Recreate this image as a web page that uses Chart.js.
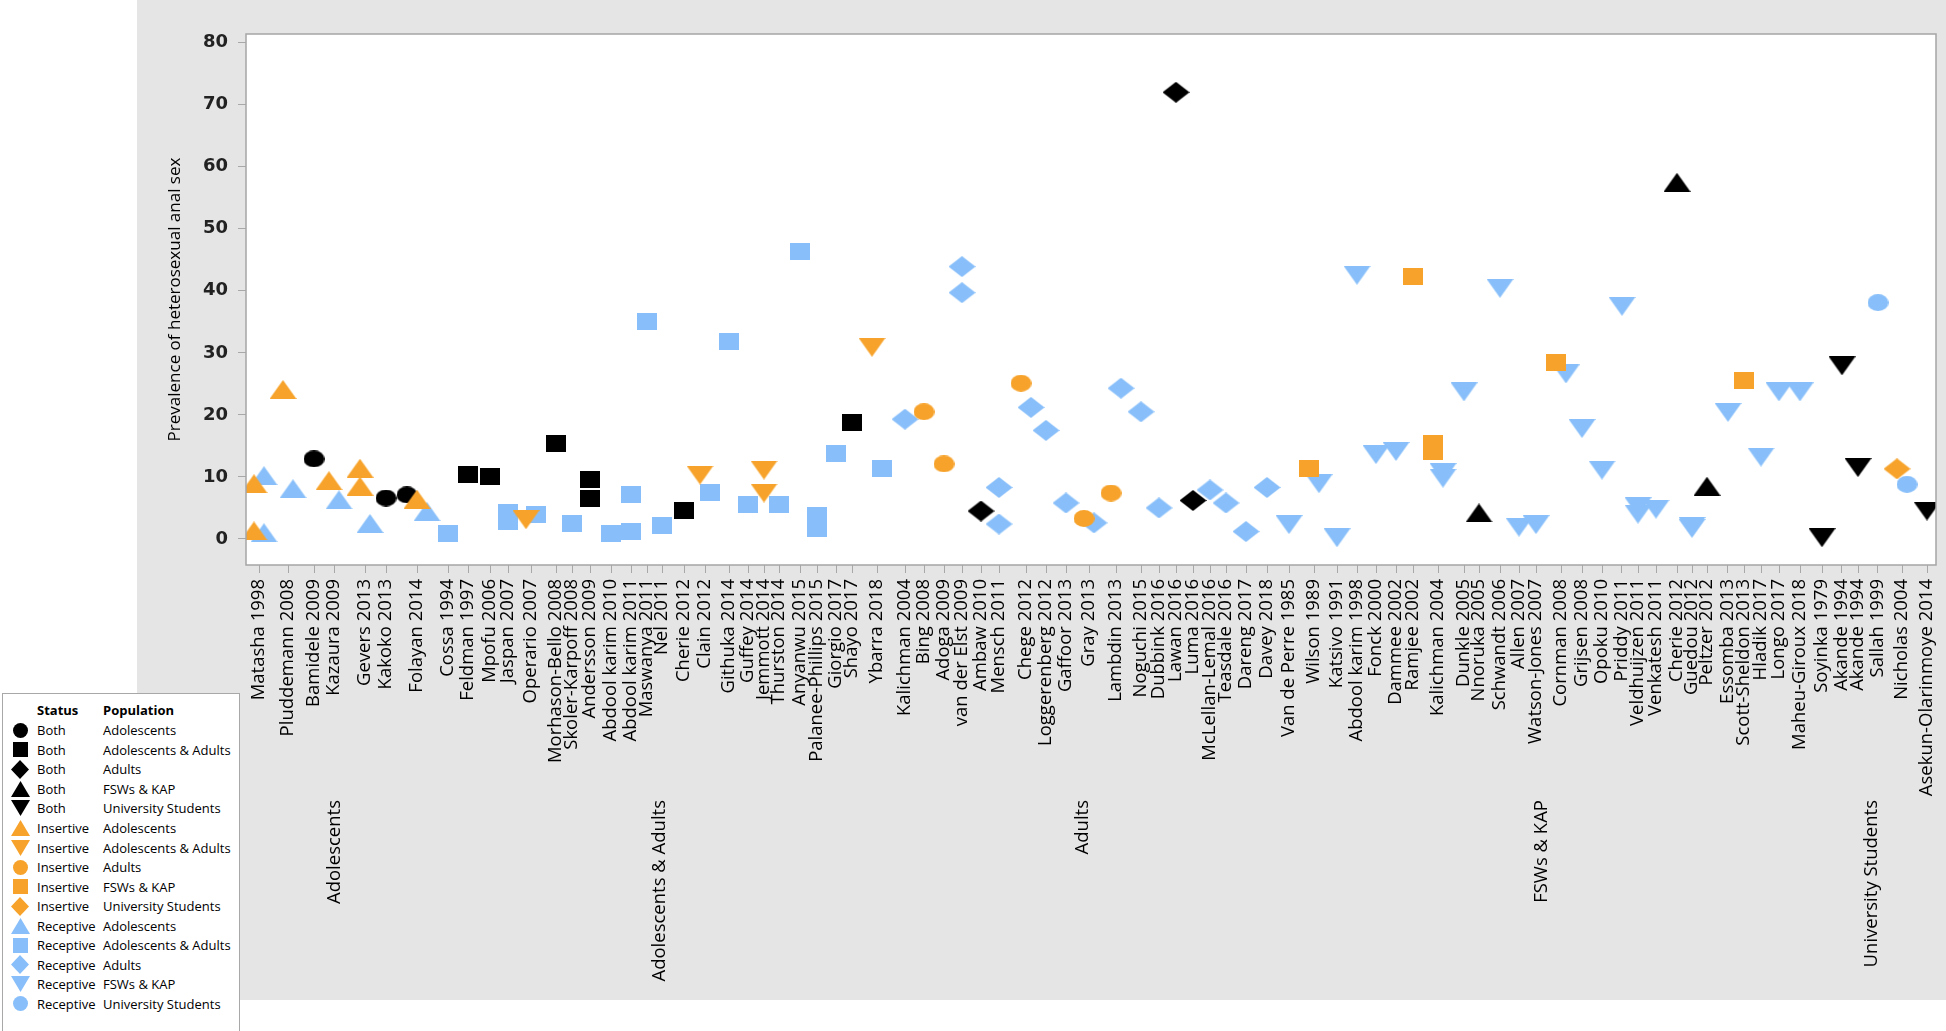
<!DOCTYPE html>
<html>
<head>
<meta charset="utf-8">
<script src="https://cdn.jsdelivr.net/npm/chart.js@4.4.1/dist/chart.umd.min.js"></script>
<style>
  body { margin: 0; background: #fff; }
  #wrap { position: relative; width: 1946px; height: 1031px; overflow: hidden; }
  #legend { position: absolute; left: 2px; top: 693px; width: 236px; height: 340px;
            border: 1.5px solid #a8a8a8; background: #fff; font-family: 'Open Sans'; font-size: 13px; color: #000; }
  .lrow { position: absolute; left: 0; width: 100%; height: 20px; line-height: 20px; white-space: nowrap; }
  .lrow span { position: absolute; top: 0; }
  .lrow canvas { position: absolute; }
  .hdr { font-weight: bold; }
</style>
</head>
<body>
<div id="wrap">
  <canvas id="chart" width="1946" height="1031"></canvas>
  <div id="legend"></div>
</div>
<script>
// populations (x axis groups) and status of the anal sex
var groups = ["Adolescents", "Adolescents & Adults", "Adults", "FSWs & KAP", "University Students"];
var groupSize = [7, 23, 19, 27, 6];   // how many studies belong to each group, in order
var statuses = ["Both", "Insertive", "Receptive"];

// studies on the x axis, in the order of the picture
var studyNames = [
  "Matasha 1998", "Pluddemann 2008", "Bamidele 2009", "Kazaura 2009", "Gevers 2013", "Kakoko 2013", "Folayan 2014",
  "Cossa 1994", "Feldman 1997", "Mpofu 2006", "Jaspan 2007", "Operario 2007", "Morhason-Bello 2008", "Skoler-Karpoff 2008",
  "Andersson 2009", "Abdool karim 2010", "Abdool karim 2011", "Maswanya 2011", "Nel 2011", "Cherie 2012", "Clain 2012",
  "Githuka 2014", "Guffey 2014", "Jemmott 2014", "Thurston 2014", "Anyanwu 2015", "Palanee-Phillips 2015", "Giorgio 2017",
  "Shayo 2017", "Ybarra 2018",
  "Kalichman 2004", "Bing 2008", "Adoga 2009", "van der Elst 2009", "Ambaw 2010", "Mensch 2011", "Chege 2012",
  "Loggerenberg 2012", "Gaffoor 2013", "Gray 2013", "Lambdin 2013", "Noguchi 2015", "Dubbink 2016", "Lawan 2016",
  "Luma 2016", "McLellan-Lemal 2016", "Teasdale 2016", "Dareng 2017", "Davey 2018",
  "Van de Perre 1985", "Wilson 1989", "Katsivo 1991", "Abdool karim 1998", "Fonck 2000", "Dammee 2002", "Ramjee 2002",
  "Kalichman 2004", "Dunkle 2005", "Nnoruka 2005", "Schwandt 2006", "Allen 2007", "Watson-Jones 2007", "Cornman 2008",
  "Grijsen 2008", "Opoku 2010", "Priddy 2011", "Veldhuijzen 2011", "Venkatesh 2011", "Cherie 2012", "Guedou 2012",
  "Peltzer 2012", "Essomba 2013", "Scott-Sheldon 2013", "Hladik 2017", "Longo 2017", "Maheu-Giroux 2018",
  "Soyinka 1979", "Akande 1994", "Akande 1994", "Sallah 1999", "Nicholas 2004", "Asekun-Olarinmoye 2014"
];
// where each study sits on the x axis (axis runs 0..169)
var studyPos = [
  1.3, 4.2, 6.8, 8.8, 11.9, 14.0, 17.1,
  20.2, 22.2, 24.4, 26.2, 28.5, 31.0, 32.6, 34.4, 36.5, 38.5, 40.1, 41.6, 43.8, 45.9,
  48.3, 50.2, 51.8, 53.3, 55.4, 57.1, 59.0, 60.6, 63.1,
  65.9, 67.8, 69.8, 71.6, 73.5, 75.3, 78.0, 80.0, 82.0, 84.3, 87.0, 89.5, 91.3, 93.0,
  94.7, 96.4, 98.0, 100.0, 102.1,
  104.3, 106.8, 109.1, 111.1, 113.0, 115.0, 116.7, 119.2, 121.8, 123.3, 125.4, 127.3, 129.0, 131.5,
  133.6, 135.6, 137.6, 139.2, 141.0, 143.1, 144.6, 146.1, 148.2, 149.8, 151.5, 153.3, 155.4,
  157.6, 159.6, 161.2, 163.2, 165.6, 168.1
];

// every point: which study, which status (B/I/R) and the prevalence
var ptStudy = [
  0,0,0,0, 1,1, 2, 3,3, 4,4,4, 5, 6,6,6,
  7, 8, 9, 10,10, 11,11, 12, 13, 14,14, 15, 16,16, 17, 18, 19, 20,20, 21, 22, 23,23, 24, 25, 26,26, 27, 28, 29,29,
  30, 31, 32, 33,33, 34, 35,35, 36,36, 37, 38, 39,39, 40,40, 41, 42, 43, 44, 45, 46, 47, 48,
  49, 50,50, 51, 52, 53, 54, 55, 56,56,56,56, 57, 58, 59, 60, 61, 62,62, 63, 64, 65, 66,66, 67, 68, 69,69, 70, 71, 72, 73, 74, 75,
  76, 77, 78, 79, 80,80, 81
];
var ptStatus = [
  "I","I","R","R", "I","R", "B", "I","R", "I","I","R", "B", "B","I","R",
  "R", "B", "B", "R","R", "I","R", "B", "R", "B","B", "R", "R","R", "R", "R", "B", "I","R", "R", "R", "I","I", "R", "R", "R","R", "R", "B", "I","R",
  "R", "I", "I", "R","R", "B", "R","R", "I","R", "R", "R", "I","R", "I","R", "R", "R", "B", "B", "R", "R", "R", "R",
  "R", "I","R", "R", "R", "R", "R", "I", "I","I","R","R", "R", "B", "R", "R", "R", "I","R", "R", "R", "R", "R","R", "R", "B", "R","R", "B", "R", "I", "R", "R", "R",
  "B", "B", "B", "R", "I","R", "B"
];
var ptValue = [
  8.9,1.3,10.2,1.0, 24.1,8.1, 12.9, 9.4,6.3, 11.4,8.5,2.5, 6.6, 7.1,6.4,4.4,
  0.8, 10.4, 10.0, 4.2,2.8, 3.1,4.0, 15.4, 2.5, 9.6,6.6, 0.8, 7.1,1.2, 35.1, 2.2, 4.6, 10.3,7.5, 31.8, 5.5, 11.1,7.4, 5.5, 46.4, 3.7,1.7, 13.8, 18.8, 30.9,11.3,
  19.3, 20.5, 12.1, 43.9,39.7, 4.5, 8.3,2.4, 25.1,21.2, 17.5, 5.8, 3.3,2.6, 7.4,24.3, 20.5, 5.0, 72.0, 6.2, 7.9, 5.8, 1.2, 8.3,
  2.3, 11.3,8.9, 0.2, 42.5, 13.6, 14.1, 42.3, 15.4,14.1,10.7,9.8, 23.7, 4.2, 40.4, 1.9, 2.3, 28.4,26.6, 17.8, 11.1, 37.5, 5.2,4.0, 4.8, 57.5, 2.0,1.7, 8.5, 20.4, 25.5, 13.2, 23.7, 23.7,
  0.2, 27.9, 11.5, 38.1, 11.3,8.8, 4.5
];

var yTicks = [0, 10, 20, 30, 40, 50, 60, 70, 80];

// marker look: colour per status, shape per status+population (same as the legend)
var statusColor = {B: "#000000", I: "#F7A32B", R: "#88BFFA"};
var shapes = {
  B: ["circle", "square", "diamond", "up", "down"],
  I: ["up", "down", "circle", "square", "diamond"],
  R: ["up", "square", "diamond", "down", "circle"]
};
var markSize = {circle: [21, 17], square: [20, 17], diamond: [27, 21], up: [27, 19], down: [27, 19]};
var legendSize = {circle: [15, 15], square: [15, 15], diamond: [18, 19], up: [19, 16], down: [19, 16]};

// paint a shape into a small canvas, chart.js can take a canvas as pointStyle
function makeMarker(shape, color, w, h) {
  var c = document.createElement("canvas");
  c.width = w; c.height = h;
  var g = c.getContext("2d");
  g.fillStyle = color;
  g.beginPath();
  if (shape === "circle") {
    g.ellipse(w / 2, h / 2, w / 2, h / 2, 0, 0, Math.PI * 2);
  } else if (shape === "square") {
    g.rect(0, 0, w, h);
  } else if (shape === "diamond") {
    g.moveTo(w / 2, 0); g.lineTo(w, h / 2); g.lineTo(w / 2, h); g.lineTo(0, h / 2);
  } else if (shape === "up") {
    g.moveTo(w / 2, 0); g.lineTo(w, h); g.lineTo(0, h);
  } else {
    g.moveTo(0, 0); g.lineTo(w, 0); g.lineTo(w / 2, h);
  }
  g.closePath();
  g.fill();
  return c;
}

// group index of every study
var studyGroup = [];
groupSize.forEach(function (n, g) { for (var k = 0; k < n; k++) studyGroup.push(g); });

// dodge: inside one study the statuses sit side by side (Both, Insertive, Receptive)
var order = "BIR";
function dodge(study, st) {
  var present = [];
  for (var i = 0; i < ptStudy.length; i++) {
    if (ptStudy[i] === study && present.indexOf(ptStatus[i]) < 0) present.push(ptStatus[i]);
  }
  present.sort(function (a, b) { return order.indexOf(a) - order.indexOf(b); });
  return (present.indexOf(st) - (present.length - 1) / 2) * 1.0;
}

// build 15 datasets, one per status x population
var datasets = [];
["I", "B", "R"].forEach(function (st, k) {
  groups.forEach(function (grp, g) {
    var pts = [];
    for (var i = 0; i < ptValue.length; i++) {
      if (ptStatus[i] === st && studyGroup[ptStudy[i]] === g) {
        pts.push({x: studyPos[ptStudy[i]] + dodge(ptStudy[i], st), y: ptValue[i]});
      }
    }
    var sh = shapes[st][g];
    datasets.push({
      label: statuses[order.indexOf(st)] + " " + grp,
      data: pts,
      order: k,
      clip: 0,
      pointStyle: makeMarker(sh, statusColor[st], markSize[sh][0], markSize[sh][1]),
      pointRadius: 10,
      backgroundColor: statusColor[st],
      borderWidth: 0
    });
  });
});

// grey panel, white plot area, frame and the population labels under the study names
var panelPlugin = {
  id: "panel",
  beforeDraw: function (chart) {
    var ctx = chart.ctx, a = chart.chartArea;
    ctx.save();
    ctx.fillStyle = "#e5e5e5";
    ctx.fillRect(137, 0, chart.width - 137, 1000);
    ctx.fillStyle = "#ffffff";
    ctx.fillRect(a.left, a.top, a.right - a.left, a.bottom - a.top);
    ctx.restore();
  },
  afterDraw: function (chart) {
    var ctx = chart.ctx, a = chart.chartArea, xs = chart.scales.x;
    ctx.save();
    ctx.strokeStyle = "#a5a5a5";
    ctx.lineWidth = 1.5;
    ctx.strokeRect(a.left, a.top, a.right - a.left, a.bottom - a.top);
    ctx.fillStyle = "#000";
    ctx.font = "18.5px 'Open Sans'";
    ctx.textAlign = "right";
    ctx.textBaseline = "middle";
    var start = 0;
    groups.forEach(function (grp, g) {
      var first = studyPos[start], last = studyPos[start + groupSize[g] - 1];
      var px = xs.getPixelForValue((first + last) / 2) - 3;
      ctx.save();
      ctx.translate(px, 800);
      ctx.rotate(-Math.PI / 2);
      ctx.fillText(grp, 0, 0);
      ctx.restore();
      start += groupSize[g];
    });
    ctx.restore();
  }
};

var ctx = document.getElementById("chart").getContext("2d");
var config = {
  type: "scatter",
  data: {datasets: datasets},
  options: {
    responsive: false,
    devicePixelRatio: 1,
    animation: false,
    events: [],
    layout: {padding: {left: 160, top: 34, right: 10, bottom: 0}},
    plugins: {legend: {display: false}, tooltip: {enabled: false}},
    scales: {
      x: {
        type: "linear",
        min: 0,
        max: 169,
        afterBuildTicks: function (s) { s.ticks = studyPos.map(function (v) { return {value: v}; }); },
        afterFit: function (s) { s.height = 466; s.paddingLeft = 0; s.paddingRight = 0; },
        grid: {drawOnChartArea: false, drawTicks: true, tickLength: 8, color: "#a8a8a8"},
        border: {display: false},
        ticks: {
          autoSkip: false, minRotation: 90, maxRotation: 90, padding: 6, color: "#000",
          font: {family: "'Open Sans'", size: 18.5},
          callback: function (v, i) { return studyNames[i]; }
        }
      },
      y: {
        min: -4.2,
        max: 81.4,
        afterBuildTicks: function (s) { s.ticks = yTicks.map(function (v) { return {value: v}; }); },
        afterFit: function (s) { s.width = 86; s.paddingTop = 0; s.paddingBottom = 0; },
        grid: {drawOnChartArea: false, drawTicks: true, tickLength: 8, color: "#a8a8a8"},
        border: {display: false},
        ticks: {padding: 10, color: "#222", font: {family: "'DejaVu Sans'", size: 18, weight: "bold"}},
        title: {
          display: true,
          text: "Prevalence of heterosexual anal sex",
          color: "#000",
          font: {family: "'Open Sans'", size: 17},
          padding: {top: 5, bottom: 0}
        }
      }
    }
  },
  plugins: [panelPlugin]
};
var myChart = new Chart(ctx, config);

// legend box in the lower left corner (html, two text columns)
var leg = document.getElementById("legend");
function addRow(cy, status, pop, st, g, header) {
  var row = document.createElement("div");
  row.className = "lrow" + (header ? " hdr" : "");
  row.style.top = (cy - 694.5 - 10) + "px";
  if (!header) {
    var sh = shapes[st][g];
    var w = legendSize[sh][0], h = legendSize[sh][1];
    var c = makeMarker(sh, statusColor[st], w, h);
    c.style.left = (17 - w / 2) + "px";
    c.style.top = (10 - h / 2) + "px";
    row.appendChild(c);
  }
  var a = document.createElement("span"); a.style.left = "34px"; a.textContent = status;
  var b = document.createElement("span"); b.style.left = "100px"; b.textContent = pop;
  row.appendChild(a); row.appendChild(b);
  leg.appendChild(row);
}
addRow(710, "Status", "Population", null, null, true);
var r = 0;
"BIR".split("").forEach(function (st) {
  groups.forEach(function (grp, g) {
    addRow(730.7 + 19.55 * r, statuses[order.indexOf(st)], grp, st, g, false);
    r++;
  });
});
</script>
</body>
</html>
